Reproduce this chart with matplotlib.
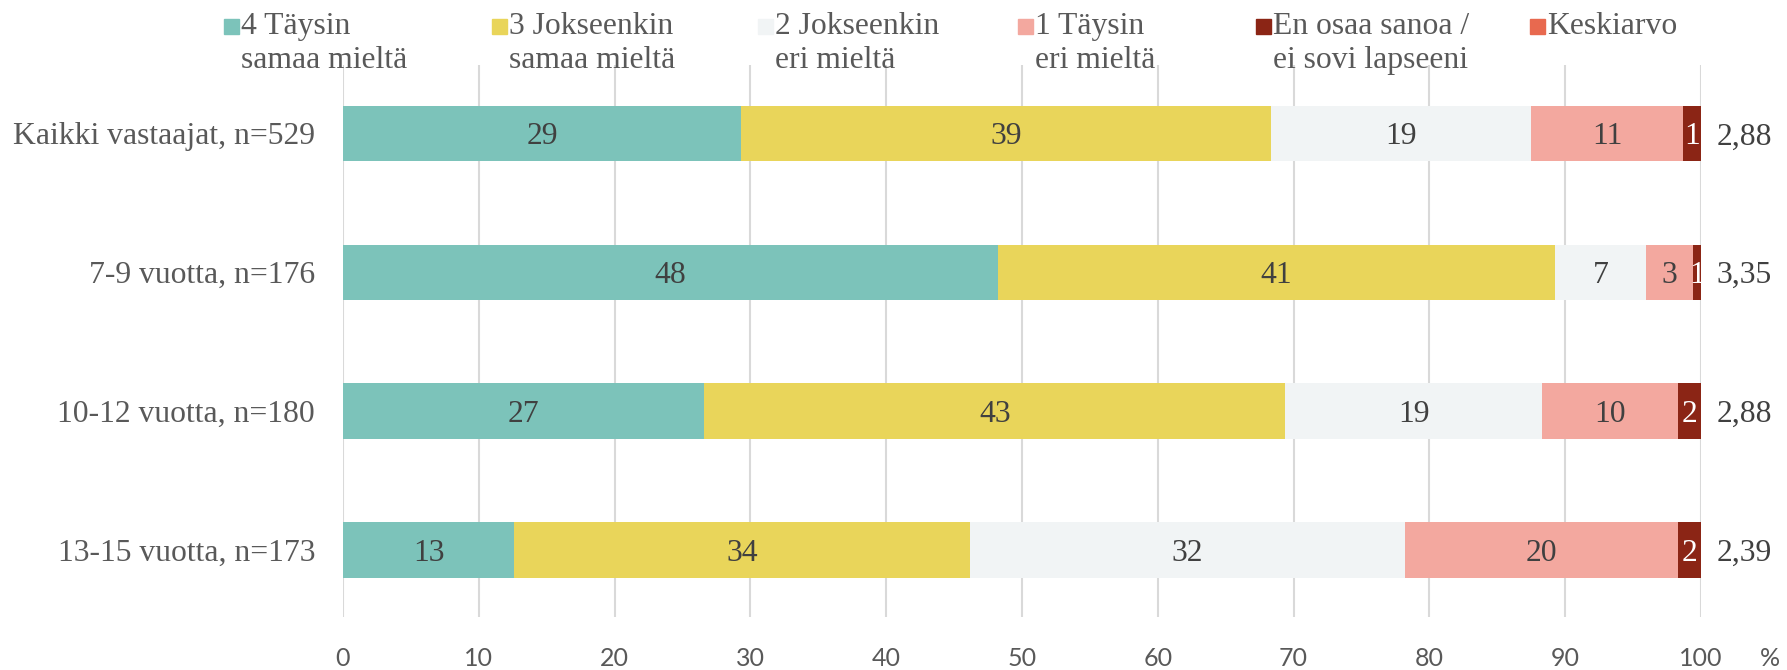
import matplotlib
matplotlib.use("Agg")
import matplotlib.pyplot as plt
from matplotlib.patches import Rectangle

# --- data -------------------------------------------------------------
categories = ["Kaikki vastaajat, n=529", "7-9 vuotta, n=176",
              "10-12 vuotta, n=180", "13-15 vuotta, n=173"]
taysin_samaa = [29.3, 48.2, 26.6, 12.6]
jokseenkin_samaa = [39.05, 41.05, 42.8, 33.6]
jokseenkin_eri = [19.15, 6.7, 18.9, 32.0]
taysin_eri = [11.2, 3.45, 10.0, 20.1]
eos = [1.3, 0.6, 1.7, 1.7]
keskiarvo = [2.88, 3.35, 2.88, 2.39]

series_labels = ["4 Täysin\nsamaa mieltä", "3 Jokseenkin\nsamaa mieltä",
                 "2 Jokseenkin\neri mieltä", "1 Täysin\neri mieltä",
                 "En osaa sanoa /\nei sovi lapseeni"]
mean_label = "Keskiarvo"
x_ticks = [0, 10, 20, 30, 40, 50, 60, 70, 80, 90, 100]

# --- style ------------------------------------------------------------
colors = ["#7CC3BA", "#E9D55A", "#F1F4F5", "#F3A89F", "#8B2515"]
mean_color = "#E8694F"
label_colors = ["#404040", "#404040", "#404040", "#404040", "#FFFFFF"]
text_grey = "#595959"
serif = ["Liberation Serif", "DejaVu Serif"]
sans = ["Lato", "DejaVu Sans"]
FS = 22.8

W, H = 1787, 670
fig = plt.figure(figsize=(W / 100, H / 100), dpi=100)
ax = fig.add_axes([343 / W, 1 - 617 / H, (1701 - 343) / W, (617 - 65) / H])

series = [taysin_samaa, jokseenkin_samaa, jokseenkin_eri, taysin_eri, eos]
ypos = list(range(len(categories)))
left = [0.0] * len(categories)
for vals, col, lcol in zip(series, colors, label_colors):
    ax.barh(ypos, vals, left=left, height=0.40, color=col, zorder=3)
    for y, l, v in zip(ypos, left, vals):
        ax.text(l + v / 2, y, f"{v:.0f}", ha="center", va="center_baseline",
                color=lcol, family=serif, fontsize=FS, zorder=4)
    left = [a + b for a, b in zip(left, vals)]

# mean values to the right of the bars
for y, m in zip(ypos, keskiarvo):
    ax.annotate(f"{m:.2f}".replace(".", ","), xy=(100, y), xytext=(11, 0),
                textcoords="offset points", ha="left", va="center_baseline",
                color="#404040", family=serif, fontsize=FS)

ax.set_xlim(0, 100)
ax.set_ylim(3.483, -0.493)
ax.set_xticks(x_ticks)
ax.set_xticklabels([str(t) for t in x_ticks], family=sans, fontsize=18,
                   color=text_grey)
ax.set_yticks(ypos)
ax.set_yticklabels(categories, family=serif, fontsize=FS, color=text_grey)
ax.tick_params(axis="both", length=0)
ax.tick_params(axis="x", pad=21.5)
ax.tick_params(axis="y", pad=20)
ax.xaxis.grid(True, color="#D9D9D9", linewidth=1.5, zorder=0)
ax.set_axisbelow(True)
for s in ax.spines.values():
    s.set_visible(False)

ax.annotate("%", xy=(100, 0), xycoords=("data", "axes fraction"),
            xytext=(49.5, -35.5), textcoords="offset points",
            ha="center", va="baseline", family=sans, fontsize=18,
            color=text_grey, annotation_clip=False)

# --- legend -----------------------------------------------------------
text_x = [241, 509, 775, 1035, 1273, 1547]
entries = list(zip(series_labels + [mean_label], colors + [mean_color]))
for tx, (lab, col) in zip(text_x, entries):
    fig.patches.append(Rectangle(((tx - 17) / W, 1 - 34 / H), 15 / W, 15 / H,
                                 transform=fig.transFigure, color=col))
    for i, line in enumerate(lab.split("\n")):
        fig.text(tx / W, 1 - (34 + 34 * i) / H, line, ha="left",
                 va="baseline", family=serif, fontsize=FS, color=text_grey)

fig.savefig("out.png", dpi=100, facecolor="white")
